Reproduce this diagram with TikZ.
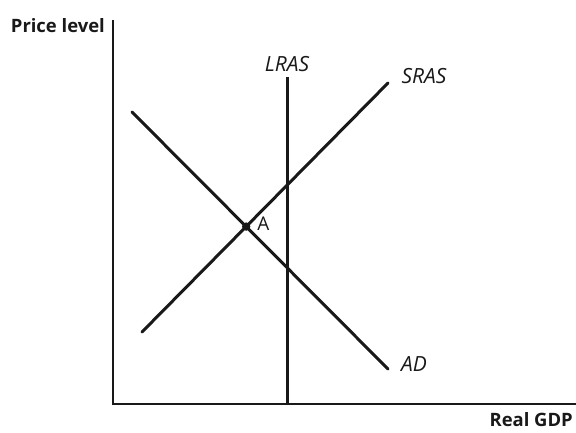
\documentclass[tikz,border=0pt]{standalone}
\usepackage{fontspec}
\setsansfont{Open Sans}
\usetikzlibrary{positioning}
\definecolor{inkblack}{RGB}{25,25,25}

\begin{document}
\begin{tikzpicture}[
  x=1bp, y=1bp,
  axis/.style={line width=1.6bp, draw=inkblack},
  curve/.style={line width=3bp, draw=inkblack},
  axislabel/.style={font=\sffamily\bfseries\fontsize{18.5}{22}\selectfont,
                    text=inkblack, inner sep=0pt},
  curvelabel/.style={font=\sffamily\itshape\fontsize{21}{25}\selectfont,
                     text=inkblack, inner sep=0pt},
  pointlabel/.style={font=\sffamily\fontsize{19}{23}\selectfont,
                     text=inkblack, inner sep=0pt},
]
\useasboundingbox (0,0) rectangle (576,432);

% -------------------------------------------------------------------------
% Axes
% -------------------------------------------------------------------------
\coordinate (origin) at (113,28);
\coordinate (ytop) at (113,412);
\coordinate (xend) at (576,28);
\draw[axis] (ytop) -- (origin) -- (xend);
\node[axislabel, anchor=east] (ylab) at (105,406) {Price level};
\node[axislabel, anchor=base east] (xlab) at (573,6) {Real GDP};

% -------------------------------------------------------------------------
% Curves
% -------------------------------------------------------------------------
\coordinate (lrastop) at (287,355);
\coordinate (lrasbot) at (287,28);
\draw[curve] (lrastop) -- (lrasbot);
\node[curvelabel, above=5bp of lrastop] (lraslab) {LRAS};

\coordinate (sraslo) at (142,100);
\coordinate (srashi) at (388,349);
\draw[curve, line cap=round] (sraslo) -- (srashi);
\node[curvelabel, anchor=center] (sraslab) at (424,356) {SRAS};

\coordinate (adhi) at (132,320);
\coordinate (adlo) at (388,63);
\draw[curve, line cap=round] (adhi) -- (adlo);
\node[curvelabel, anchor=center] (adlab) at (414,68) {AD};

% -------------------------------------------------------------------------
% Equilibrium point A
% -------------------------------------------------------------------------
\coordinate (eqA) at (intersection of adhi--adlo and sraslo--srashi);
\fill[inkblack] (eqA) circle (4.2bp);
\node[pointlabel, anchor=west] (alab) at ([xshift=11bp, yshift=3bp]eqA) {A};

\end{tikzpicture}
\end{document}
